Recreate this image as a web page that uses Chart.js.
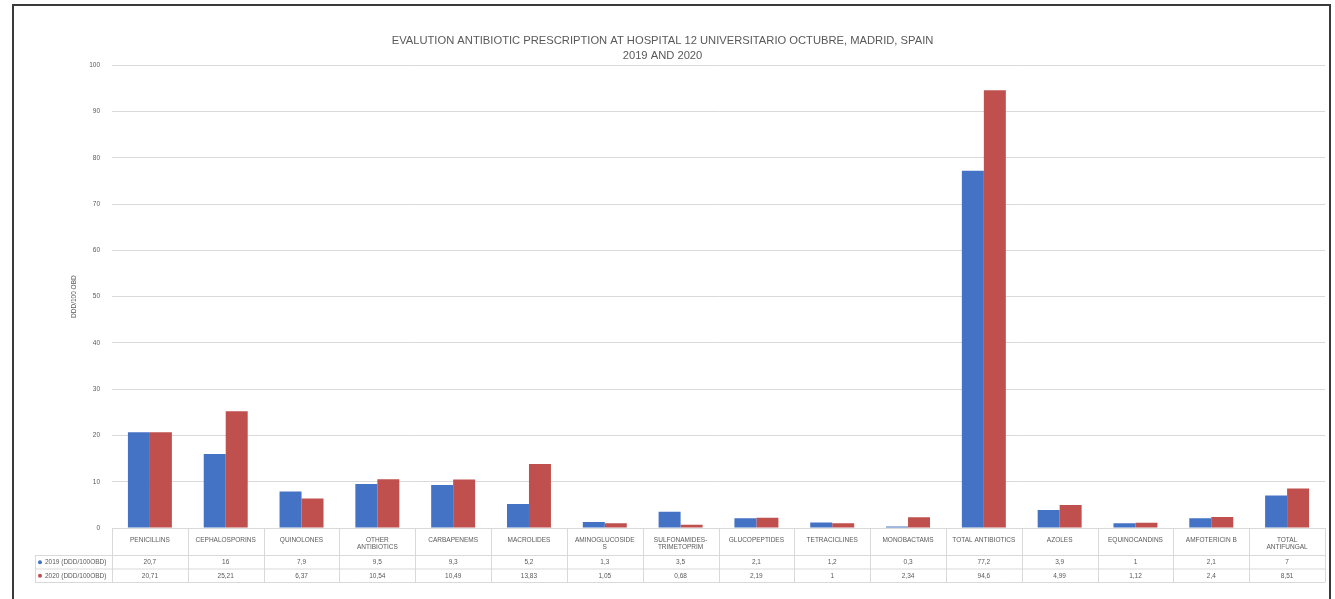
<!DOCTYPE html>
<html>
<head>
<meta charset="utf-8">
<script src="https://cdn.jsdelivr.net/npm/chart.js@4.4.1/dist/chart.umd.min.js"></script>
<style>
  body { margin: 0; background: #fff; }
  #wrap { position: relative; width: 1335px; height: 599px; overflow: hidden; }
  #frame { position: absolute; left: 12px; top: 4px; width: 1315px; height: 600px; border: 2px solid #3a3a3a; pointer-events: none; }
  canvas { position: absolute; left: 0; top: 0; }
</style>
</head>
<body>
<div id="wrap">
  <canvas id="barChart" width="1335" height="599"></canvas>
  <div id="frame"></div>
</div>
<script>
const categories = [
  'PENICILLINS', 'CEPHALOSPORINS', 'QUINOLONES', ['OTHER', 'ANTIBIOTICS'],
  'CARBAPENEMS', 'MACROLIDES', ['AMINOGLUCOSIDE', 'S'], ['SULFONAMIDES-', 'TRIMETOPRIM'],
  'GLUCOPEPTIDES', 'TETRACICLINES', 'MONOBACTAMS', 'TOTAL ANTIBIOTICS',
  'AZOLES', 'EQUINOCANDINS', 'AMFOTERICIN B', ['TOTAL', 'ANTIFUNGAL']
];
const values2019 = [20.7, 16, 7.9, 9.5, 9.3, 5.2, 1.3, 3.5, 2.1, 1.2, 0.3, 77.2, 3.9, 1, 2.1, 7];
const values2020 = [20.71, 25.21, 6.37, 10.54, 10.49, 13.83, 1.05, 0.68, 2.19, 1, 2.34, 94.6, 4.99, 1.12, 2.4, 8.51];
const seriesNames = ['2019 (DDD/100OBD)', '2020 (DDD/100OBD)'];
const yTicks = [0, 10, 20, 30, 40, 50, 60, 70, 80, 90, 100];

const BLUE = 'rgb(68, 114, 196)';
const RED = 'rgb(192, 80, 77)';
const TEXT = '#595959';
const LINE = '#d9d9d9';

// data table drawn under the x axis labels
const dataTable = {
  id: 'dataTable',
  afterDraw(chart) {
    const ctx = chart.ctx;
    const x = chart.scales.x;
    const area = chart.chartArea;
    const half = (x.getPixelForValue(1) - x.getPixelForValue(0)) / 2;
    const headBottom = area.bottom + 27;
    const rows = [headBottom, headBottom + 13.5, headBottom + 27];
    const left = 35;
    ctx.save();
    ctx.strokeStyle = LINE;
    ctx.lineWidth = 1;
    ctx.beginPath();
    rows.forEach(y => { ctx.moveTo(left, y + 0.5); ctx.lineTo(area.right, y + 0.5); });
    for (let i = 0; i <= categories.length; i++) {
      const px = Math.round(x.getPixelForValue(0) - half + i * half * 2) + 0.5;
      ctx.moveTo(px, area.bottom); ctx.lineTo(px, rows[2]);
    }
    ctx.moveTo(left + 0.5, rows[0]); ctx.lineTo(left + 0.5, rows[2]);
    ctx.stroke();

    ctx.font = '6.5px "Liberation Sans", Arial, sans-serif';
    ctx.textBaseline = 'middle';
    [values2019, values2020].forEach((vals, r) => {
      const cy = (rows[r] + rows[r + 1]) / 2 + 0.5;
      ctx.fillStyle = r === 0 ? BLUE : RED;
      ctx.beginPath();
      ctx.arc(left + 5, cy, 2, 0, Math.PI * 2);
      ctx.fill();
      ctx.fillStyle = TEXT;
      ctx.textAlign = 'left';
      ctx.fillText(seriesNames[r], left + 10, cy);
      ctx.textAlign = 'center';
      vals.forEach((v, i) => {
        ctx.fillText(String(v).replace('.', ','), x.getPixelForValue(i), cy);
      });
    });
    ctx.restore();
  }
};

const bar_chart_data = {
  labels: categories,
  datasets: [{
    label: seriesNames[0],
    data: values2019,
    backgroundColor: BLUE,
    categoryPercentage: 0.58,
    barPercentage: 1
  }, {
    label: seriesNames[1],
    data: values2020,
    backgroundColor: RED,
    categoryPercentage: 0.58,
    barPercentage: 1
  }]
};

const bar_chart_config = {
  type: 'bar',
  data: bar_chart_data,
  plugins: [dataTable],
  options: {
    responsive: false,
    animation: false,
    layout: { padding: { left: 0, right: 10, top: 28, bottom: 44 } },
    plugins: {
      legend: { display: false },
      tooltip: { enabled: false },
      title: {
        display: true,
        text: ['EVALUTION ANTIBIOTIC PRESCRIPTION AT HOSPITAL 12 UNIVERSITARIO OCTUBRE, MADRID, SPAIN', '2019 AND 2020'],
        color: TEXT,
        font: { family: '"Liberation Sans", Arial', size: 11.2, weight: 'normal', lineHeight: 1.35 },
        padding: { top: 5, bottom: 2 }
      }
    },
    scales: {
      x: {
        grid: { display: false, drawTicks: false },
        border: { color: LINE },
        ticks: {
          color: TEXT,
          font: { family: '"Liberation Sans", Arial', size: 6.5 },
          maxRotation: 0,
          autoSkip: false,
          padding: 8
        },
        afterFit(scale) { scale.height = 27; }
      },
      y: {
        min: 0,
        max: 100,
        afterBuildTicks(scale) { scale.ticks = yTicks.map(v => ({ value: v })); },
        grid: { color: LINE, drawTicks: false },
        border: { display: false },
        ticks: {
          color: TEXT,
          font: { family: '"Liberation Sans", Arial', size: 6.5 },
          padding: 12
        },
        title: {
          display: true,
          text: 'DDD/100 OBD',
          color: TEXT,
          font: { family: '"Liberation Sans", Arial', size: 6.5 },
          padding: { top: 70, bottom: 0 }
        },
        afterFit(scale) { scale.width = 112; }
      }
    }
  }
};

const barChart = new Chart(
  document.getElementById('barChart'),
  bar_chart_config
);
</script>
</body>
</html>
